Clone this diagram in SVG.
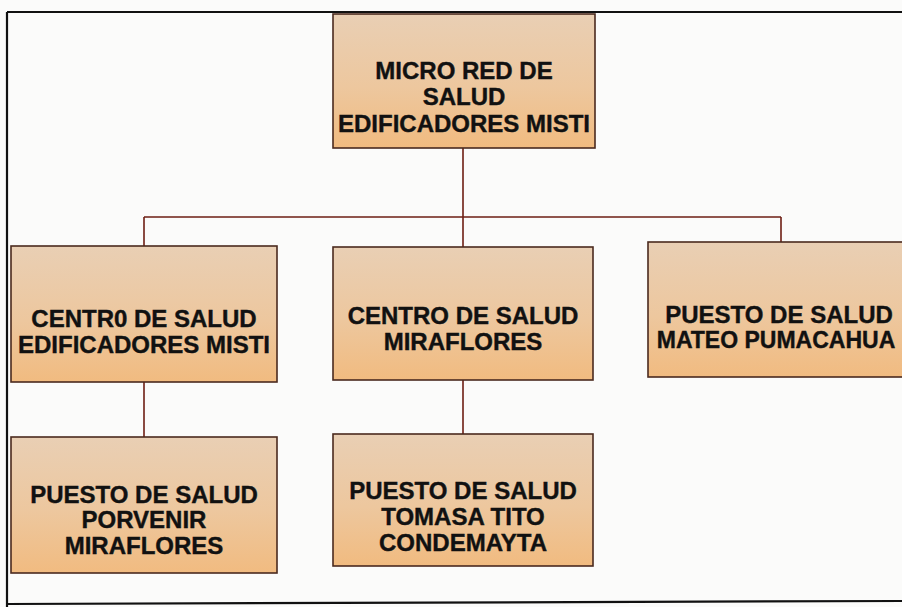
<svg xmlns="http://www.w3.org/2000/svg" width="902" height="607" viewBox="0 0 902 607">
  <defs>
    <linearGradient id="boxFill" x1="0" y1="0" x2="0" y2="1">
      <stop offset="0" stop-color="#E9CFB4"/>
      <stop offset="0.55" stop-color="#EDC79E"/>
      <stop offset="1" stop-color="#F1BB80"/>
    </linearGradient>
    <style>
      .box { fill: url(#boxFill); stroke: #4a2a1f; stroke-width: 1.6; }
      .lbl { font-family: "Liberation Sans", Arial, sans-serif; font-weight: bold; font-size: 24px; fill: #111; stroke: #111; stroke-width: 0.4; text-anchor: middle; }
      .conn { stroke: #6e1f14; stroke-width: 1.6; fill: none; }
      .frame { stroke: #111; stroke-width: 2.2; fill: none; }
    </style>
  </defs>
  <rect x="0" y="0" width="902" height="607" fill="#fbfbfa"/>
  <g id="frame">
    <path class="frame" d="M 7 12 L 902 12 M 7 12 L 7 607 M 7 604 L 902 601"/>
  </g>
  <g id="connectors">
    <path class="conn" d="M 463 148 L 463 217 M 144 217 L 781 217 M 144 217 L 144 246 M 463 217 L 463 247 M 781 217 L 781 242"/>
    <path class="conn" d="M 144 382 L 144 437 M 463 380 L 463 434"/>
  </g>
  <g id="node-micro-red">
    <rect class="box" x="333" y="14" width="262" height="134"/>
    <text class="lbl" x="464" y="79">MICRO RED DE</text>
    <text class="lbl" x="464" y="105">SALUD</text>
    <text class="lbl" x="464" y="132">EDIFICADORES MISTI</text>
  </g>
  <g id="node-centro-edificadores">
    <rect class="box" x="11" y="246" width="266" height="136"/>
    <text class="lbl" x="144" y="327">CENTR0 DE SALUD</text>
    <text class="lbl" x="144" y="353">EDIFICADORES MISTI</text>
  </g>
  <g id="node-centro-miraflores">
    <rect class="box" x="333" y="247" width="260" height="133"/>
    <text class="lbl" x="463" y="324">CENTRO DE SALUD</text>
    <text class="lbl" x="463" y="350">MIRAFLORES</text>
  </g>
  <g id="node-puesto-mateo">
    <rect class="box" x="648" y="242" width="266" height="135"/>
    <text class="lbl" x="779" y="323">PUESTO DE SALUD</text>
    <text class="lbl" x="776" y="348" style="font-size:23px">MATEO PUMACAHUA</text>
  </g>
  <g id="node-puesto-porvenir">
    <rect class="box" x="11" y="437" width="266" height="136"/>
    <text class="lbl" x="144" y="503">PUESTO DE SALUD</text>
    <text class="lbl" x="144" y="528">PORVENIR</text>
    <text class="lbl" x="144" y="554">MIRAFLORES</text>
  </g>
  <g id="node-puesto-tomasa">
    <rect class="box" x="333" y="434" width="260" height="132"/>
    <text class="lbl" x="463" y="499">PUESTO DE SALUD</text>
    <text class="lbl" x="463" y="525">TOMASA TITO</text>
    <text class="lbl" x="463" y="551">CONDEMAYTA</text>
  </g>
</svg>
